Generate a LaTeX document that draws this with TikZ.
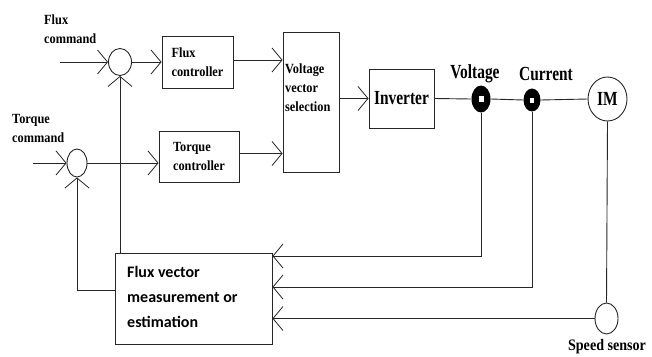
\documentclass[tikz,border=0pt]{standalone}
\usepackage{fontspec}
\usetikzlibrary{arrows.meta,shapes.geometric}
\newfontfamily\labs[FakeStretch=0.88]{Liberation Serif}
\newfontfamily\labb[FakeStretch=0.77]{Liberation Serif}
\newfontfamily\calfont{Carlito}
\tikzset{
  line/.style={line width=0.9pt,draw=black!85},
  arr/.style={line,-{Straight Barb[length=10pt,width=24pt,line width=0.8pt]}},
  blk/.style={line,rectangle,inner sep=0pt,align=left},
  sumc/.style={line,ellipse,inner sep=0pt},
  ring/.style={ellipse,fill=black,inner sep=0pt},
  smalltxt/.style={font=\labs\bfseries\fontsize{14}{19}\selectfont,align=left,inner sep=0pt},
  bigtxt/.style={font=\labb\bfseries\fontsize{20}{22}\selectfont,inner sep=0pt},
}
\begin{document}
\begin{tikzpicture}[x=1pt,y=-1pt]
\useasboundingbox (0,0) rectangle (652,356);
% nodes
\node[sumc,minimum width=23pt,minimum height=27pt] (fs) at (120,62) {};
\node[sumc,minimum width=20pt,minimum height=28pt] (ts) at (77,163) {};
\node[blk,minimum width=71pt,minimum height=52pt,smalltxt] (fc) at (197.5,62) {Flux\\ controller};
\node[blk,minimum width=80pt,minimum height=51pt,smalltxt] (tc) at (199,156.5) {Torque\\ controller};
\node[blk,minimum width=56pt,minimum height=140pt] (vvs) at (311,102) {};
\node[smalltxt,anchor=west] (vvst) at (285,88) {Voltage\\vector\\selection};
\node[blk,minimum width=65pt,minimum height=59pt,bigtxt] (inv) at (401.5,98.5) {Inverter};
\node[ring,minimum width=19pt,minimum height=27pt] (vs) at (481,99) {};
\node[fill=white,minimum width=5pt,minimum height=6pt,inner sep=0pt] (vsi) at (vs.center) {};
\node[ring,minimum width=17pt,minimum height=23pt] (cs) at (532,100) {};
\node[fill=white,minimum width=4pt,minimum height=5pt,inner sep=0pt] (csi) at (cs.center) {};
\node[sumc,minimum width=39pt,minimum height=44pt,bigtxt] (im) at (607.5,99) {IM};
\node[blk,minimum width=157pt,minimum height=91pt] (fv) at (193.5,298.5) {};
\node[anchor=west,align=left,inner sep=0pt,font=\calfont\bfseries\fontsize{16}{25}\selectfont] (fvt) at (127,297) {Flux vector\\measurement or\\estimation};
\node[sumc,minimum width=23pt,minimum height=31pt] (ss) at (606.5,318.5) {};
% labels
\node[smalltxt,anchor=west] (fcmd) at (44,29) {Flux\\command};
\node[smalltxt,anchor=west] (tcmd) at (12,128) {Torque\\command};
\node[bigtxt] (vl) at (475,74) {Voltage};
\node[bigtxt] (cl) at (546,74) {Current};
\node[font=\labs\bfseries\fontsize{16}{18}\selectfont,inner sep=0pt] (sl) at (607,347) {Speed sensor};
\coordinate (fin) at (60,62);
\coordinate (tin) at (33,163);
% connectors
\draw[arr] (fin) -- (fs.west);
\draw[arr] (tin) -- (ts.west);
\draw[arr] (fs.east) -- (fc.west);
\draw[arr] (ts.east) -- (ts.east -| tc.west);
\draw[arr] ([yshift=2pt]fc.east) -- ([yshift=2pt]fc.east -| vvs.west);
\draw[arr] ([yshift=3pt]tc.east) -- ([yshift=3pt]tc.east -| vvs.west);
\draw[arr] (inv.west -| vvs.east) -- (inv.west);
\draw[line] (inv.east) -- (vs.west);
\draw[line] (vs.east) -- (cs.west);
\draw[line] (cs.east) -- (im.west);
\draw[arr] (vs.south) |- ([yshift=42.5pt]fv.east);
\draw[arr] (cs.south) |- ([yshift=11.5pt]fv.east);
\draw[line] (im.south) -- (ss.north);
\draw[arr] (ss.west) -- (ss.west -| fv.east);
\draw[arr] (fv.north -| fs.south) -- (fs.south);
\draw[arr] ([yshift=8.5pt]fv.west) -| (ts.south);
\end{tikzpicture}
\end{document}
